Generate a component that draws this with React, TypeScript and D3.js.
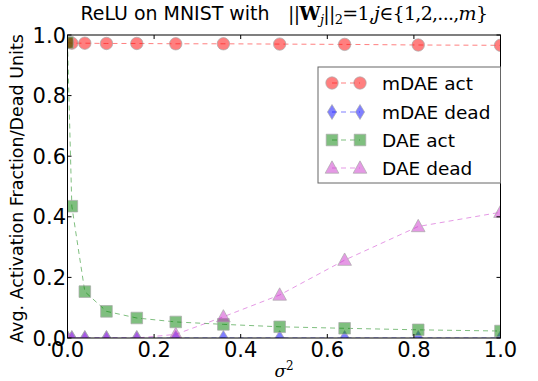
import React from "react";
import * as d3 from "d3";

const xValues = [0, 0.01, 0.04, 0.09, 0.16, 0.25, 0.36, 0.49, 0.64, 0.81, 1.0];
const mdaeAct = [0.975, 0.973, 0.973, 0.972, 0.972, 0.971, 0.971, 0.97, 0.969, 0.967, 0.966];
const mdaeDead = [0, 0, 0, 0, 0, 0, 0, 0, 0, 0, 0];
const daeAct = [0.975, 0.435, 0.153, 0.088, 0.066, 0.053, 0.045, 0.037, 0.032, 0.027, 0.023];
const daeDead = [0, 0, 0, 0, 0, 0.012, 0.07, 0.142, 0.257, 0.368, 0.415];
const xTicks = [0, 0.2, 0.4, 0.6, 0.8, 1.0];
const yTicks = [0, 0.2, 0.4, 0.6, 0.8, 1.0];
const seriesNames = ["mDAE act", "mDAE dead", "DAE act", "DAE dead"];
const seriesColors = ["#ff0000", "#0000ff", "#008000", "#cc33cc"];
const seriesMarkers = ["circle", "diamond", "square", "triangle"];

const W = 538;
const H = 381;
const left = 67.5;
const right = 500.5;
const top = 35;
const bottom = 338;

function markerPath(kind: string, s: number): string {
  if (kind === "circle") return d3.symbol(d3.symbolCircle, Math.PI * s * s)() as string;
  if (kind === "square") return `M${-s},${-s}H${s}V${s}H${-s}Z`;
  if (kind === "diamond") return `M0,${-s * 1.15}L${s * 0.7},0L0,${s * 1.15}L${-s * 0.7},0Z`;
  return `M0,${-s * 1.1}L${s * 1.05},${s * 0.8}L${-s * 1.05},${s * 0.8}Z`;
}

function Marker({ kind, color, x, y }: { kind: string; color: string; x: number; y: number }) {
  const s = kind === "circle" ? 6.2 : kind === "square" ? 5.8 : 6.5;
  return (
    <path
      d={markerPath(kind, s)}
      transform={`translate(${x},${y})`}
      fill={color}
      fillOpacity={0.5}
      stroke="#aaaaaa"
      strokeOpacity={0.7}
      strokeWidth={1}
    />
  );
}

export default function App() {
  const x = d3.scaleLinear().domain([0, 1]).range([left, right]);
  const y = d3.scaleLinear().domain([0, 1]).range([bottom, top]);
  const data = [mdaeAct, mdaeDead, daeAct, daeDead];
  const line = d3
    .line<number>()
    .x((_, i) => x(xValues[i]))
    .y((d) => y(d));
  const tickFont = "DejaVu Sans, sans-serif";
  const mathFont = "DejaVu Serif, Liberation Serif, serif";
  const legendX = 318;
  const legendY = 67;
  const legendRows = [83, 112, 140, 168];

  return (
    <svg width={W} height={H} style={{ position: "absolute", left: 0, top: 0, background: "#fff" }}>
      <defs>
        <clipPath id="plotclip">
          <rect x={left} y={top} width={right - left} height={bottom - top} />
        </clipPath>
      </defs>
      <rect x={0} y={0} width={W} height={H} fill="#fff" />
      {/* title */}
      <text x={80.5} y={19.5} fontFamily={tickFont} fontSize={19.5} fill="#000" textLength={189} lengthAdjust="spacingAndGlyphs">
        ReLU on MNIST with
      </text>
      <text x={288} y={19.5} fontFamily={mathFont} fontSize={19} fill="#000" textLength={200} lengthAdjust="spacing">
        <tspan>||</tspan>
        <tspan fontWeight="bold">W</tspan>
        <tspan fontStyle="italic" fontSize={13} dy={4}>j</tspan>
        <tspan dy={-4}>||</tspan>
        <tspan fontSize={13} dy={4}>2</tspan>
        <tspan dy={-4}>=1,</tspan>
        <tspan fontStyle="italic">j</tspan>
        <tspan>∈{"{"}1,2,...,</tspan>
        <tspan fontStyle="italic">m</tspan>
        <tspan>{"}"}</tspan>
      </text>

      {/* data */}
      <g clipPath="url(#plotclip)">
        {data.map((vals, si) => (
          <g key={si}>
            <path
              d={line(vals) as string}
              fill="none"
              stroke={seriesColors[si]}
              strokeOpacity={0.5}
              strokeWidth={1}
              strokeDasharray="5,4"
            />
            {vals.map((v, i) => (
              <Marker key={i} kind={seriesMarkers[si]} color={seriesColors[si]} x={x(xValues[i])} y={y(v)} />
            ))}
          </g>
        ))}
      </g>

      {/* axes frame */}
      <rect x={left} y={top} width={right - left} height={bottom - top} fill="none" stroke="#000" strokeWidth={1} />
      {xTicks.map((t) => (
        <g key={"x" + t}>
          <line x1={x(t)} x2={x(t)} y1={bottom} y2={bottom - 4} stroke="#000" />
          <line x1={x(t)} x2={x(t)} y1={top} y2={top + 4} stroke="#000" />
          <text x={x(t)} y={357} textAnchor="middle" fontFamily={tickFont} fontSize={21}>
            {t.toFixed(1)}
          </text>
        </g>
      ))}
      {yTicks.map((t) => (
        <g key={"y" + t}>
          <line x1={left} x2={left + 4} y1={y(t)} y2={y(t)} stroke="#000" />
          <line x1={right} x2={right - 4} y1={y(t)} y2={y(t)} stroke="#000" />
          <text x={66} y={y(t) + 7.5} textAnchor="end" fontFamily={tickFont} fontSize={21}>
            {t.toFixed(1)}
          </text>
        </g>
      ))}

      {/* axis labels */}
      <text
        transform={`translate(23,${(top + bottom) / 2 + 2}) rotate(-90)`}
        textAnchor="middle"
        fontFamily={tickFont}
        fontSize={17.5}
      >
        Avg. Activation Fraction/Dead Units
      </text>
      <text x={284} y={377} textAnchor="middle" fontFamily={mathFont} fontSize={17}>
        <tspan fontStyle="italic">σ</tspan>
        <tspan fontSize={12} dy={-7}>2</tspan>
      </text>

      {/* legend */}
      <rect x={legendX} y={legendY} width={right - legendX} height={116} fill="#fff" stroke="#666" strokeWidth={1} />
      {seriesNames.map((name, i) => (
        <g key={name}>
          <line
            x1={332}
            x2={360}
            y1={legendRows[i]}
            y2={legendRows[i]}
            stroke={seriesColors[i]}
            strokeOpacity={0.5}
            strokeDasharray="5,4"
          />
          <Marker kind={seriesMarkers[i]} color={seriesColors[i]} x={332} y={legendRows[i]} />
          <Marker kind={seriesMarkers[i]} color={seriesColors[i]} x={360} y={legendRows[i]} />
          <text x={382} y={legendRows[i] + 6.5} fontFamily={tickFont} fontSize={18.5}>
            {name}
          </text>
        </g>
      ))}
    </svg>
  );
}
